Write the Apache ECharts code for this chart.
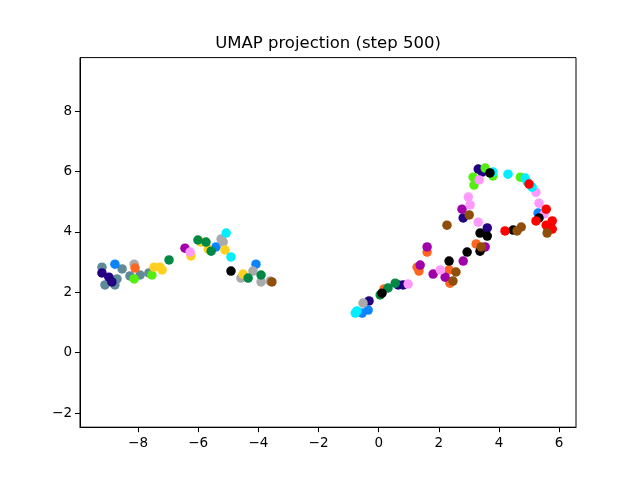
<!DOCTYPE html>
<html>
<head>
<meta charset="utf-8">
<script src="https://cdn.jsdelivr.net/npm/echarts@6/dist/echarts.min.js"></script>
<style>html,body{margin:0;padding:0;background:#fff}#c{width:640px;height:480px}</style>
</head>
<body>
<div id="c"></div>
<script>
var titleText = "UMAP projection (step 500)";
var xTicks = [-8, -6, -4, -2, 0, 2, 4, 6];
var yTicks = [-2, 0, 2, 4, 6, 8];

var slate = [[-9.20,2.83],[-9.10,2.24],[-8.77,2.24],[-8.70,2.44],[-8.53,2.77],[-8.27,2.54],[-7.93,2.57],[-7.64,2.64]];
var indigo = [[-9.20,2.64],[-8.97,2.50],[-8.87,2.34],[-0.32,1.71],[0.65,2.24],[0.81,2.24],[3.61,4.13],[2.81,4.46],[3.31,6.08],[3.44,5.98]];
var dodger = [[-8.77,2.93],[-5.41,3.50],[-4.08,2.93],[-0.55,1.31],[-0.35,1.41],[5.30,4.62]];
var silver = [[-8.13,2.93],[-5.24,3.76],[-5.17,3.66],[-4.58,2.47],[-4.18,2.70],[-3.91,2.34],[-3.61,2.37],[-0.52,1.64]];
var orange = [[-8.10,2.80],[0.18,2.11],[1.28,2.83],[1.34,2.70],[2.37,2.30],[2.34,2.74],[1.61,3.33],[3.24,3.60]];
var lime = [[-8.13,2.44],[-7.54,2.57],[3.14,5.81],[3.17,5.55],[3.54,6.11],[3.80,5.85],[4.71,5.81]];
var gold = [[-7.47,2.83],[-7.27,2.83],[-7.20,2.74],[-6.24,3.20],[-5.91,3.66],[-5.67,3.43],[-5.11,3.40],[-4.51,2.60]];
var green = [[-6.97,3.07],[-6.01,3.73],[-5.74,3.66],[-5.57,3.36],[-4.34,2.47],[-3.91,2.57],[0.05,1.91],[0.31,2.14],[0.55,2.30]];
var purple = [[-6.44,3.46],[1.38,2.90],[1.81,2.60],[2.21,2.50],[2.81,3.03],[1.61,3.50],[3.54,3.50],[2.77,4.75]];
var pink = [[-6.27,3.33],[0.98,2.27],[2.05,2.74],[3.31,4.32],[2.98,5.15],[3.04,4.89],[3.34,5.72],[5.23,5.31],[5.33,4.95],[5.50,4.59]];
var cyan = [[-5.07,3.96],[-4.91,3.17],[-0.78,1.31],[-0.72,1.38],[3.80,5.98],[4.30,5.91],[4.87,5.78],[4.94,5.65],[5.10,5.48]];
var black = [[-4.91,2.70],[0.11,1.97],[2.34,3.03],[2.94,3.33],[3.37,3.36],[3.37,3.96],[3.61,3.86],[3.70,5.95],[5.33,4.46],[4.47,4.06]];
var red = [[5.00,5.58],[5.57,4.75],[5.23,4.36],[5.77,4.36],[5.57,4.22],[5.77,4.09],[5.63,4.06],[4.20,4.03]];
var brown = [[-3.55,2.34],[2.47,2.37],[2.57,2.67],[2.27,4.22],[3.41,3.50],[3.01,4.56],[5.60,3.96],[4.74,4.16],[4.60,4.03]];

var groups = [
  [slate, "#5f8a98"], [indigo, "#230082"], [dodger, "#0a84ff"], [silver, "#aaaaaa"],
  [orange, "#ff6622"], [lime, "#55ee11"], [gold, "#ffd020"], [green, "#008844"],
  [purple, "#a000a8"], [pink, "#ff99ff"], [cyan, "#00eeff"], [black, "#000000"],
  [red, "#ff0000"], [brown, "#8f4e0a"]
];

function fmt(v){ return String(v).replace('-', '\u2212'); }

var chart = echarts.init(document.getElementById('c'), null, {renderer:'canvas'});
var axisCommon = {
  type: 'value',
  splitLine: {show:false},
  axisLine: {show:true, onZero:false, lineStyle:{color:'#000', width:1}},
  axisTick: {show:true, inside:false, length:5, lineStyle:{color:'#000', width:1}},
  axisLabel: {color:'#000', fontSize:13.5, fontFamily:'DejaVu Sans', margin:8, showMinLabel:true, showMaxLabel:true}
};
var xAxis = JSON.parse(JSON.stringify(axisCommon));
xAxis.min = -9.93; xAxis.max = 6.56;
xAxis.axisTick.customValues = xTicks; xAxis.axisLabel.customValues = xTicks; xAxis.axisLabel.formatter = fmt;
xAxis.axisLabel.margin = 9;
var yAxis = JSON.parse(JSON.stringify(axisCommon));
yAxis.min = -2.47; yAxis.max = 9.77;
yAxis.axisTick.customValues = yTicks; yAxis.axisLabel.customValues = yTicks; yAxis.axisLabel.formatter = fmt;

chart.setOption({
  animation: false,
  title: {text: titleText, left: 328, textAlign: 'center', top: 35, padding: 0,
    textStyle: {fontFamily:'DejaVu Sans', fontSize:16.5, fontWeight:'normal', color:'#000'}},
  grid: {left:80, right:64, top:57.6, bottom:52.8, show:true, borderColor:'#000', borderWidth:1, backgroundColor:'transparent'},
  xAxis: xAxis,
  yAxis: yAxis,
  series: groups.map(function(g){
    return {type:'scatter', data:g[0], symbolSize:9.5, itemStyle:{color:g[1], opacity:1}, emphasis:{disabled:true}};
  })
});
</script>
</body>
</html>
